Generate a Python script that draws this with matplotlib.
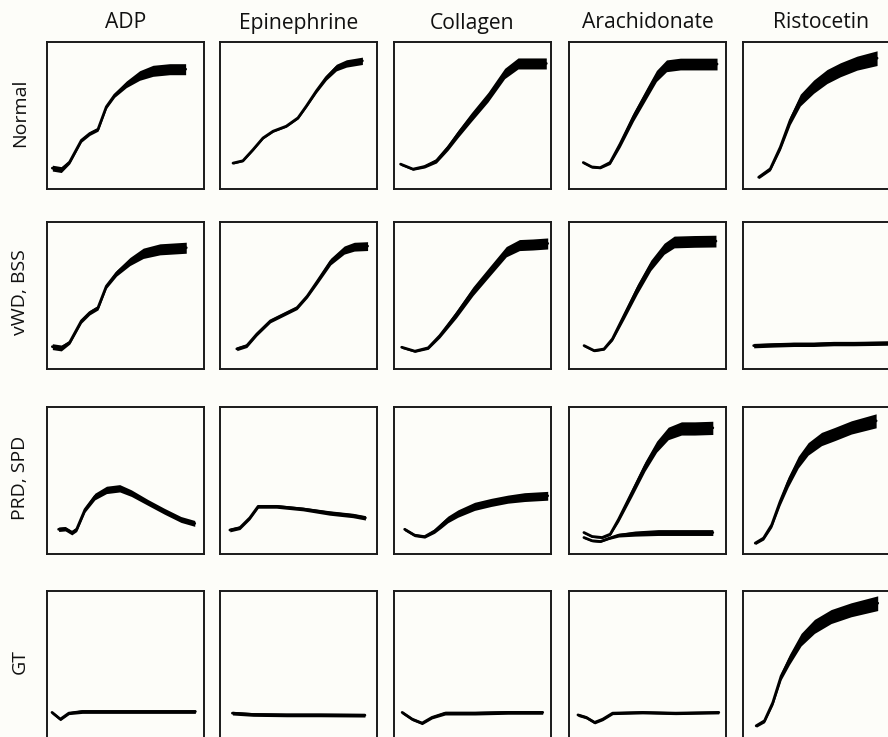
import matplotlib
matplotlib.use("Agg")
import matplotlib.pyplot as plt
import numpy as np

plt.rcParams['font.family'] = ['Open Sans', 'DejaVu Sans']

# ---------------- labels ----------------
agonists = ["ADP", "Epinephrine", "Collagen", "Arachidonate", "Ristocetin"]
conditions = ["Normal", "vWD, BSS", "PRD, SPD", "GT"]

# ---------------- data (x: % of trace time, y: % aggregation, w: trace band width) ----------------
# Row 1 : Normal
normal_adp_x = [3.4, 9.1, 14.4, 21.9, 27.2, 32.5, 37.8, 43.1, 50.5, 59.0, 67.5, 78.1, 88.3]
normal_adp_y = [14.2, 13.2, 18.3, 33.1, 37.7, 40.6, 55.9, 63.9, 71.2, 77.2, 80.4, 81.5, 81.5]
normal_adp_w = [4.0, 4.0, 2.5, 2.5, 2.5, 2.5, 2.5, 3.0, 4.5, 6.5, 7.5, 7.5, 7.5]

normal_epi_x = [8.3, 14.6, 21.0, 27.4, 33.8, 42.2, 49.7, 55.0, 61.4, 67.7, 74.1, 80.5, 90.7]
normal_epi_y = [17.6, 19.2, 26.7, 34.7, 39.3, 42.7, 48.4, 56.4, 66.7, 75.8, 82.6, 85.4, 87.2]
normal_epi_w = [1.2, 1.2, 1.3, 1.3, 1.3, 1.3, 1.5, 1.8, 2.5, 3.5, 4.5, 5.0, 5.0]

normal_col_x = [4.2, 12.1, 19.5, 27.0, 34.4, 40.8, 49.2, 59.9, 70.5, 79.0, 87.5, 97.0]
normal_col_y = [16.9, 13.5, 15.3, 19.2, 28.3, 37.5, 48.8, 62.5, 78.6, 85.4, 85.4, 85.4]
normal_col_w = [1.5, 1.5, 2.0, 3.0, 4.0, 5.0, 6.0, 6.5, 7.0, 7.5, 7.5, 7.5]

normal_ara_x = [9.1, 14.5, 19.8, 26.2, 32.6, 41.1, 49.6, 55.7, 62.1, 70.9, 79.4, 94.3]
normal_ara_y = [18.0, 15.0, 14.5, 18.0, 30.7, 49.2, 65.4, 76.9, 83.8, 85.0, 85.0, 85.0]
normal_ara_w = [1.5, 1.5, 1.5, 2.5, 4.5, 6.0, 7.0, 7.5, 8.0, 8.0, 8.0, 8.0]

normal_ris_x = [10.0, 17.4, 23.8, 30.1, 36.5, 45.0, 53.5, 62.0, 72.6, 85.4]
normal_ris_y = [8.0, 13.7, 28.5, 46.8, 60.5, 69.6, 76.5, 81.1, 85.6, 89.0]
normal_ris_w = [2.0, 2.5, 4.0, 6.0, 8.0, 9.0, 9.5, 9.5, 9.5, 10.0]

# Row 2 : vWD, BSS
vwd_adp_x = [3.4, 9.1, 14.5, 21.9, 27.2, 32.5, 37.8, 44.3, 52.8, 61.3, 71.9, 88.7]
vwd_adp_y = [15.2, 14.3, 18.2, 32.7, 38.3, 41.7, 56.3, 65.2, 73.1, 78.7, 81.4, 82.5]
vwd_adp_w = [4.0, 4.0, 2.5, 3.0, 3.0, 3.0, 3.0, 4.0, 5.5, 7.0, 7.5, 7.5]

vwd_epi_x = [10.7, 17.1, 23.5, 32.1, 40.6, 49.1, 55.6, 62.0, 70.5, 79.1, 85.5, 94.0]
vwd_epi_y = [13.7, 15.9, 23.8, 32.7, 37.2, 41.7, 49.6, 59.6, 73.1, 80.9, 83.2, 83.6]
vwd_epi_w = [2.5, 2.5, 2.5, 2.5, 2.5, 2.5, 2.5, 3.5, 4.5, 5.5, 6.0, 6.0]

vwd_col_x = [4.9, 13.3, 21.8, 29.2, 39.8, 50.3, 60.9, 71.5, 79.9, 88.4, 97.9]
vwd_col_y = [14.8, 12.1, 14.4, 22.7, 37.3, 52.9, 66.4, 79.8, 84.3, 84.7, 85.4]
vwd_col_w = [1.5, 1.5, 2.0, 3.0, 5.0, 6.0, 6.5, 7.0, 7.5, 7.5, 7.5]

vwd_ara_x = [9.6, 16.0, 22.3, 27.7, 35.1, 43.6, 52.1, 60.6, 67.0, 79.8, 93.6]
vwd_ara_y = [15.9, 12.5, 13.6, 20.5, 36.4, 54.5, 70.5, 81.8, 86.4, 86.8, 87.0]
vwd_ara_w = [1.5, 1.5, 1.5, 2.5, 5.0, 6.5, 7.0, 7.5, 8.0, 8.0, 8.0]

vwd_ris_x = [6.8, 19.5, 32.3, 45.0, 57.7, 70.5, 83.2, 96.0]
vwd_ris_y = [15.9, 16.4, 16.8, 16.8, 17.3, 17.3, 17.5, 17.7]
vwd_ris_w = [3.0, 3.0, 3.0, 3.0, 3.0, 3.0, 3.0, 3.0]

# Row 3 : PRD, SPD
prd_adp_x = [7.4, 11.6, 15.8, 18.9, 24.2, 30.5, 37.9, 46.3, 53.7, 64.2, 74.7, 85.3, 94.1]
prd_adp_y = [16.8, 17.2, 14.5, 16.8, 30.2, 39.1, 43.6, 44.7, 41.4, 35.1, 29.1, 23.5, 20.8]
prd_adp_w = [3.0, 3.0, 3.0, 3.0, 3.5, 4.5, 5.0, 5.0, 4.5, 4.0, 4.0, 4.0, 4.0]

prd_epi_x = [6.3, 12.7, 19.0, 24.3, 35.9, 52.9, 69.8, 84.6, 92.6]
prd_epi_y = [16.3, 17.9, 24.6, 32.4, 32.4, 30.6, 27.9, 26.2, 24.6]
prd_epi_w = [2.5, 2.5, 2.5, 2.5, 2.5, 2.5, 3.0, 3.0, 3.0]

prd_col_x = [6.8, 13.1, 19.5, 25.8, 30.0, 34.3, 40.7, 51.3, 61.9, 72.5, 83.1, 97.9]
prd_col_y = [16.8, 12.8, 11.8, 15.6, 19.5, 23.5, 27.5, 32.4, 35.1, 37.3, 38.7, 39.6]
prd_col_w = [2.0, 2.0, 2.0, 3.0, 4.0, 4.5, 5.0, 5.5, 5.5, 5.5, 6.0, 6.0]

prd_ara_x = [9.5, 14.7, 21.1, 26.3, 31.6, 40.0, 48.4, 55.8, 63.2, 71.6, 80.0, 91.6]
prd_ara_y = [14.6, 11.9, 11.2, 13.5, 23.6, 41.6, 59.6, 73.0, 82.0, 85.4, 85.4, 85.8]
prd_ara_w = [1.2, 1.2, 1.2, 1.5, 3.5, 5.5, 6.5, 7.5, 8.5, 9.0, 9.0, 9.0]

prd_ara2_x = [9.5, 14.7, 20.0, 25.3, 31.6, 42.1, 56.8, 73.7, 91.6]
prd_ara2_y = [11.2, 9.0, 8.5, 10.6, 12.8, 13.9, 14.6, 14.6, 14.6]
prd_ara2_w = [1.2, 1.2, 1.2, 1.5, 2.5, 3.5, 4.0, 4.0, 4.0]

prd_ris_x = [7.8, 13.1, 18.3, 23.6, 28.8, 35.2, 41.5, 50.0, 58.4, 69.0, 84.8]
prd_ris_y = [7.4, 10.8, 19.8, 35.5, 49.0, 62.5, 71.5, 78.2, 81.6, 86.1, 90.6]
prd_ris_w = [2.0, 2.5, 3.5, 5.0, 7.0, 8.0, 8.5, 9.0, 9.0, 9.0, 9.5]

# Row 4 : GT
gt_adp_x = [3.2, 8.5, 13.9, 22.4, 56.5, 94.5]
gt_adp_y = [17.4, 12.8, 16.9, 18.0, 18.0, 18.0]
gt_adp_w = [2.0, 2.0, 2.0, 2.5, 2.5, 2.5]

gt_epi_x = [7.9, 21.1, 42.3, 63.6, 92.3]
gt_epi_y = [16.9, 16.0, 15.7, 15.7, 15.5]
gt_epi_w = [2.5, 2.5, 2.5, 2.5, 2.5]

gt_col_x = [5.2, 11.6, 17.9, 24.2, 32.6, 51.6, 72.6, 94.7]
gt_col_y = [17.4, 12.8, 10.1, 14.0, 16.9, 16.9, 17.4, 17.4]
gt_col_w = [2.0, 2.0, 2.0, 2.0, 2.5, 2.5, 2.5, 2.5]

gt_ara_x = [5.7, 11.0, 16.3, 21.5, 27.8, 46.8, 67.9, 95.4]
gt_ara_y = [15.7, 14.0, 10.6, 12.8, 16.9, 17.4, 16.9, 17.4]
gt_ara_w = [2.0, 2.0, 2.0, 2.0, 2.0, 2.0, 2.0, 2.0]

gt_ris_x = [8.4, 13.7, 19.0, 24.3, 29.6, 37.0, 45.5, 56.1, 68.8, 85.8]
gt_ris_y = [8.3, 11.7, 24.1, 42.1, 53.4, 66.9, 75.9, 82.6, 87.2, 91.7]
gt_ris_w = [2.0, 2.5, 3.5, 5.0, 7.0, 8.5, 9.5, 9.5, 9.5, 10.0]

# panel -> list of traces
panels = [
    [[(normal_adp_x, normal_adp_y, normal_adp_w)],
     [(normal_epi_x, normal_epi_y, normal_epi_w)],
     [(normal_col_x, normal_col_y, normal_col_w)],
     [(normal_ara_x, normal_ara_y, normal_ara_w)],
     [(normal_ris_x, normal_ris_y, normal_ris_w)]],
    [[(vwd_adp_x, vwd_adp_y, vwd_adp_w)],
     [(vwd_epi_x, vwd_epi_y, vwd_epi_w)],
     [(vwd_col_x, vwd_col_y, vwd_col_w)],
     [(vwd_ara_x, vwd_ara_y, vwd_ara_w)],
     [(vwd_ris_x, vwd_ris_y, vwd_ris_w)]],
    [[(prd_adp_x, prd_adp_y, prd_adp_w)],
     [(prd_epi_x, prd_epi_y, prd_epi_w)],
     [(prd_col_x, prd_col_y, prd_col_w)],
     [(prd_ara_x, prd_ara_y, prd_ara_w), (prd_ara2_x, prd_ara2_y, prd_ara2_w)],
     [(prd_ris_x, prd_ris_y, prd_ris_w)]],
    [[(gt_adp_x, gt_adp_y, gt_adp_w)],
     [(gt_epi_x, gt_epi_y, gt_epi_w)],
     [(gt_col_x, gt_col_y, gt_col_w)],
     [(gt_ara_x, gt_ara_y, gt_ara_w)],
     [(gt_ris_x, gt_ris_y, gt_ris_w)]],
]

# ---------------- layout (pixels) ----------------
W, H = 888, 737
col_left = [47, 220, 394, 569, 743]
row_top = [42, 222, 407, 591]
pw, ph = 157, 147

bg = "#fdfdf9"
fig = plt.figure(figsize=(W / 100, H / 100), dpi=100, facecolor=bg)

for r in range(4):
    for c in range(5):
        l = col_left[c] / W
        b = 1 - (row_top[r] + ph) / H
        ax = fig.add_axes([l, b, pw / W, ph / H])
        ax.set_facecolor(bg)
        ax.set_xlim(0, 100)
        ax.set_ylim(0, 100)
        ax.set_xticks([])
        ax.set_yticks([])
        for s in ax.spines.values():
            s.set_linewidth(1.4)
            s.set_color("#1a1a1a")
        for (x, y, w) in panels[r][c]:
            x = np.asarray(x, float)
            y = np.asarray(y, float)
            w = np.asarray(w, float)
            ax.fill_between(x, y - w / 2, y + w / 2, color="black", lw=0)
            ax.plot(x, y, color="black", lw=2.0, solid_joinstyle="round",
                    solid_capstyle="round")

# column titles
for c, name in enumerate(agonists):
    xc = (col_left[c] + pw / 2) / W
    fig.text(xc, 1 - 23 / H, name, ha="center", va="center", fontsize=15.2,
             color="#111111")

# row labels
for r, name in enumerate(conditions):
    yc = 1 - (row_top[r] + ph / 2 - 3) / H
    fig.text(20 / W, yc, name, ha="center", va="center", rotation=90,
             fontsize=14, color="#111111")

fig.savefig("out.png", dpi=100, facecolor=bg)
